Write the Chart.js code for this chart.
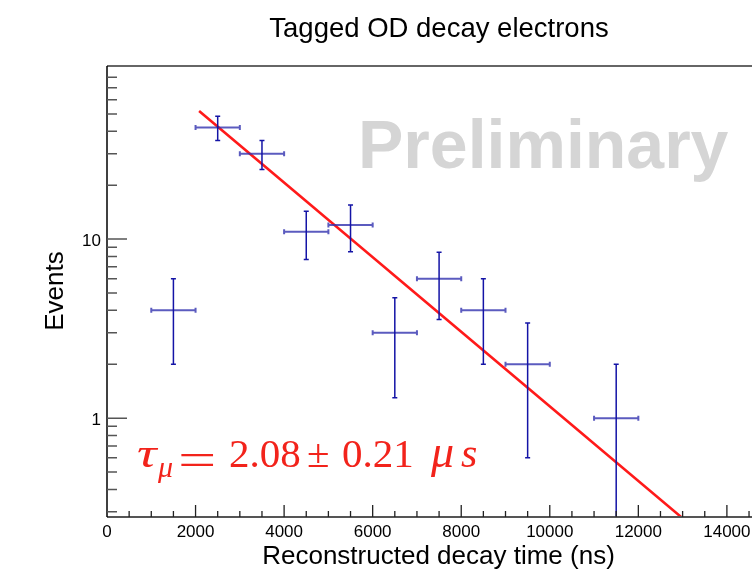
<!DOCTYPE html>
<html><head><meta charset="utf-8">
<script src="https://cdn.jsdelivr.net/npm/chart.js@4/dist/chart.umd.min.js"></script>
<style>html,body{margin:0;padding:0;background:#fff;overflow:hidden}#wrap{width:752px;height:575px;position:relative}</style>
</head><body><div id="wrap"><canvas id="c" width="752" height="575"></canvas></div>
<script>
// ---- data ----
const binCenters = [1500, 2500, 3500, 4500, 5500, 6500, 7500, 8500, 9500, 11500];
const events     = [4, 42, 30, 11, 12, 3, 6, 4, 2, 1];
const eventErr   = [2, 6.5, 5.5, 3.3, 3.5, 1.7, 2.45, 2, 1.4, 1];
const binHalfWidth = [500, 500, 500, 500, 500, 500, 500, 500, 500, 500];
const fitTimes   = [2080, 13000];
const fitEvents  = [51.9, 0.276];
const xTickValues = [0, 2000, 4000, 6000, 8000, 10000, 12000, 14000];
const xTickLabels = ['0', '2000', '4000', '6000', '8000', '10000', '12000', '14000'];
const yTickValues = [1, 10];
const yTickLabels = ['1', '10'];
const titleText = 'Tagged OD decay electrons';
const xTitle = 'Reconstructed decay time (ns)';
const yTitle = 'Events';
const watermark = 'Preliminary';

const SANS = "'Liberation Sans', Arial, Helvetica, sans-serif";
const SERIF = "'Liberation Serif', 'Times New Roman', serif";

const rootStyle = {
  id: 'rootStyle',
  beforeDatasetsDraw(chart) {
    const ctx = chart.ctx;
    ctx.save();
    ctx.fillStyle = '#d5d5d5';
    ctx.font = 'bold 68px ' + SANS;
    ctx.textAlign = 'left';
    ctx.textBaseline = 'alphabetic';
    ctx.fillText(watermark, 358, 168);
    ctx.restore();
  },
  afterDatasetsDraw(chart) {
    const ctx = chart.ctx, xs = chart.scales.x, ys = chart.scales.y, a = chart.chartArea;
    ctx.save();
    ctx.beginPath();
    ctx.rect(a.left, a.top, a.right - a.left, a.bottom - a.top);
    ctx.clip();
    const cap = 2.5;
    for (let i = 0; i < binCenters.length; i++) {
      const x = xs.getPixelForValue(binCenters[i]);
      const y = ys.getPixelForValue(events[i]);
      const xl = xs.getPixelForValue(binCenters[i] - binHalfWidth[i]);
      const xr = xs.getPixelForValue(binCenters[i] + binHalfWidth[i]);
      const lo = events[i] - eventErr[i];
      const yHi = ys.getPixelForValue(events[i] + eventErr[i]);
      const yLo = lo > 0 ? ys.getPixelForValue(lo) : a.bottom + 5;
      ctx.strokeStyle = 'rgba(50,50,175,0.8)';
      ctx.lineWidth = 2;
      ctx.beginPath();
      ctx.moveTo(xl, y); ctx.lineTo(xr, y);
      ctx.moveTo(xl, y - cap); ctx.lineTo(xl, y + cap);
      ctx.moveTo(xr, y - cap); ctx.lineTo(xr, y + cap);
      ctx.stroke();
      ctx.strokeStyle = '#1414a6';
      ctx.lineWidth = 1.5;
      ctx.beginPath();
      ctx.moveTo(x, yHi); ctx.lineTo(x, yLo);
      ctx.moveTo(x - cap, yHi); ctx.lineTo(x + cap, yHi);
      if (lo > 0) { ctx.moveTo(x - cap, yLo); ctx.lineTo(x + cap, yLo); }
      ctx.stroke();
    }
    ctx.restore();
  },
  afterDraw(chart) {
    const ctx = chart.ctx, xs = chart.scales.x, ys = chart.scales.y, a = chart.chartArea;
    ctx.save();
    // frame
    ctx.strokeStyle = '#666';
    ctx.lineWidth = 2;
    ctx.beginPath();
    ctx.moveTo(a.left, a.top); ctx.lineTo(a.right, a.top);
    ctx.stroke();
    ctx.strokeStyle = '#555';
    ctx.beginPath();
    ctx.moveTo(a.left, a.bottom); ctx.lineTo(a.right, a.bottom);
    ctx.stroke();
    ctx.strokeStyle = '#000';
    ctx.lineWidth = 1.5;
    ctx.beginPath();
    ctx.moveTo(a.left, a.top); ctx.lineTo(a.left, a.bottom);
    ctx.stroke();
    // x ticks (inside), minor every 500
    ctx.strokeStyle = '#222';
    ctx.lineWidth = 1.3;
    ctx.beginPath();
    for (let v = 500; v <= xs.max; v += 500) {
      const px = xs.getPixelForValue(v);
      const len = (v % 2000 === 0) ? 12 : 6;
      ctx.moveTo(px, a.bottom); ctx.lineTo(px, a.bottom - len);
    }
    ctx.stroke();
    // y ticks (inside) on log scale
    ctx.strokeStyle = '#555';
    ctx.lineWidth = 1.5;
    ctx.beginPath();
    for (let d = 0.1; d <= 100; d *= 10) {
      for (let k = 1; k <= 9; k++) {
        const v = +(d * k).toPrecision(3);
        if (v < ys.min || v > ys.max) continue;
        const py = ys.getPixelForValue(v);
        if (py < a.top + 3) continue;
        const len = k === 1 ? 20 : 10;
        ctx.moveTo(a.left, py); ctx.lineTo(a.left + len, py);
      }
    }
    ctx.stroke();
    // tick labels
    ctx.fillStyle = '#000';
    ctx.font = '17px ' + SANS;
    ctx.textAlign = 'center';
    ctx.textBaseline = 'middle';
    xTickValues.forEach((v, i) => {
      ctx.fillText(xTickLabels[i], xs.getPixelForValue(v), 532);
    });
    ctx.textAlign = 'right';
    yTickValues.forEach((v, i) => {
      ctx.fillText(yTickLabels[i], 101, ys.getPixelForValue(v) + 2);
    });
    // titles
    ctx.textBaseline = 'alphabetic';
    ctx.textAlign = 'center';
    ctx.font = '27.5px ' + SANS;
    ctx.fillText(titleText, 439, 37);
    ctx.font = '26px ' + SANS;
    ctx.fillText(xTitle, 438.5, 564);
    ctx.save();
    ctx.translate(63, 291);
    ctx.rotate(-Math.PI / 2);
    ctx.fillText(yTitle, 0, 0);
    ctx.restore();
    // fit result
    ctx.fillStyle = '#f2231b';
    ctx.textAlign = 'left';
    const base = 466.5;
    ctx.save();
    ctx.translate(137, base);
    ctx.scale(1.3, 1);
    ctx.font = 'italic 42px ' + SERIF;
    ctx.fillText('τ', 0, 0);
    ctx.restore();
    ctx.font = 'italic 30px ' + SERIF;
    ctx.fillText('μ', 158, base + 10);
    ctx.save();
    ctx.translate(178, base + 8);
    ctx.scale(1.7, 1.15);
    ctx.font = '40px ' + SERIF;
    ctx.fillText('=', 0, 0);
    ctx.restore();
    ctx.font = '41px ' + SERIF;
    ctx.fillText('2.08', 229, base);
    ctx.fillText('±', 307, base);
    ctx.fillText('0.21', 342, base);
    ctx.font = 'italic 46px ' + SERIF;
    ctx.fillText('μ', 431, base);
    ctx.font = 'italic 42px ' + SERIF;
    ctx.fillText('s', 461, base);
    ctx.restore();
  }
};

new Chart(document.getElementById('c'), {
  type: 'scatter',
  data: {
    datasets: [
      {
        label: 'Events',
        data: binCenters.map((x, i) => ({ x: x, y: events[i] })),
        pointRadius: 0,
        showLine: false
      },
      {
        label: 'Fit',
        data: fitTimes.map((x, i) => ({ x: x, y: fitEvents[i] })),
        showLine: true,
        borderColor: '#ff1a1a',
        borderWidth: 2.6,
        pointRadius: 0,
        fill: false
      }
    ]
  },
  options: {
    responsive: false,
    animation: false,
    devicePixelRatio: 1,
    layout: { padding: { left: 107, right: 0, top: 66, bottom: 58 } },
    scales: {
      x: { type: 'linear', min: 0, max: 14567, display: false },
      y: { type: 'logarithmic', min: 0.2805, max: 92.6, display: false }
    },
    plugins: { legend: { display: false }, tooltip: { enabled: false }, title: { display: false } }
  },
  plugins: [rootStyle]
});
</script>
</body></html>
